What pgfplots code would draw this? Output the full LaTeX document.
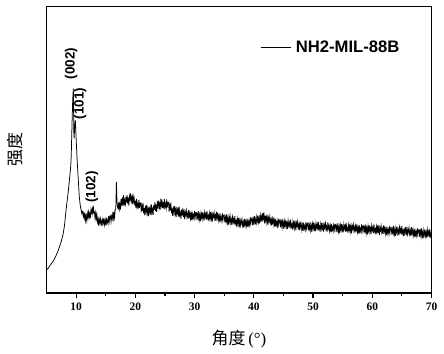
\documentclass[border=0pt]{standalone}
\usepackage{fontspec}
\setmainfont{Liberation Serif}
\setsansfont{Liberation Sans}
\newfontfamily\cjk{Noto Sans CJK SC}
\usepackage{pgfplots}
\pgfplotsset{compat=1.18}
\usetikzlibrary{calc}
\begin{document}
\begin{tikzpicture}
\begin{axis}[
  scale only axis,
  width=385bp, height=286.5bp,
  xmin=5, xmax=70, ymin=0, ymax=287,
  axis line style={line width=1.3bp},
  xtick={10,20,30,40,50,60,70},
  minor x tick num=1,
  xtick pos=bottom,
  tick align=outside,
  major tick length=4.5bp, minor tick length=3bp,
  every tick/.style={line width=1.1bp, black},
  ytick=\empty,
  /pgf/number format/assume math mode=true,
  xticklabel style={font=\fontsize{11.5}{12}\selectfont\bfseries, yshift=-2bp},
  xlabel={{\cjk 角度}\,(°)},
  xlabel style={font=\fontsize{17}{18}\selectfont, at={(axis description cs:0.5,0)}, anchor=center, yshift=-46bp},
  ylabel={\cjk 强度},
  ylabel style={font=\fontsize{17}{18}\selectfont, at={(axis description cs:0,0.5)}, anchor=center, yshift=31.5bp},
  legend style={draw=none, fill=none, at={(axis description cs:0.5545,0.8586)}, anchor=west, inner sep=0pt, font=\fontsize{16.7}{17}\selectfont\sffamily\bfseries},
  legend image code/.code={\draw[#1, line width=0.7bp] (0bp,0bp) -- (30bp,0bp); \path (33bp,0bp);},
  clip=true,
]
\addplot[black, line width=0.75bp] coordinates {
(5.0,23) (5.3,25) (5.6,27.5) (5.9,30) (6.2,32.5) (6.5,36) (6.8,40) (7.0,43) (7.2,46.5) (7.4,50) (7.6,54) (7.8,59) (8.0,66)
(8.1,71) (8.2,77) (8.3,83) (8.4,88) (8.5,93) (8.6,98) (8.7,103) (8.8,109) (8.9,115) (9.0,121) (9.1,128) (9.15,133) (9.2,143)
(9.25,155) (9.3,167) (9.36,180) (9.42,192) (9.48,200) (9.53,205) (9.57,185) (9.62,160) (9.67,155) (9.72,162) (9.8,170) (9.87,173)
(9.93,165) (10.0,155) (10.1,142) (10.2,130) (10.3,120) (10.4,110) (10.5,100) (10.55,96) (10.65,90) (10.75,86) (10.85,83) (10.95,80)
(11.0,82) (11.1,81.5) (11.2,76.5) (11.3,80.0) (11.4,75.0) (11.5,80.6) (11.6,72.6) (11.7,77.1) (11.8,72.3) (11.9,79.6) (12.0,75.7)
(12.1,81.1) (12.2,75.6) (12.3,79.5) (12.4,74.9) (12.5,83.3) (12.6,80.3) (12.7,84.0) (12.8,79.8) (12.9,87.6) (13.0,80.2)
(13.1,80.9) (13.2,74.7) (13.3,80.2) (13.4,74.5) (13.5,78.9) (13.6,71.2) (13.7,74.6) (13.8,67.5) (13.9,73.8) (14.0,70.5)
(14.1,74.5) (14.2,68.8) (14.3,71.8) (14.4,67.2) (14.5,75.5) (14.6,70.2) (14.7,73.2) (14.8,68.2) (14.9,72.9) (15.0,67.9)
(15.1,75.4) (15.2,69.9) (15.3,72.9) (15.4,70.0) (15.5,77.3) (15.6,71.8) (15.7,76.4) (15.8,77.4) (15.9,71.3) (16.0,76.9)
(16.1,74.1) (16.2,81.1) (16.3,74.6) (16.4,79.6) (16.5,75.3) (16.6,83.6) (16.7,84) (16.8,111) (16.9,92) (17.0,86)
(17.1,84.3) (17.2,91.3) (17.3,84.3) (17.4,89.3) (17.5,83.6) (17.6,94.4) (17.7,89.5) (17.8,93.6) (17.9,87.3) (18.0,98.1)
(18.1,89.8) (18.2,92.9) (18.3,86.7) (18.4,96.3) (18.5,90.9) (18.6,98.2) (18.7,89.5) (18.8,95.5) (18.9,87.5) (19.0,97.0)
(19.1,93.9) (19.2,99.7) (19.3,92.1) (19.4,95.6) (19.5,89.0) (19.6,99.3) (19.7,91.6) (19.8,94.9) (19.9,87.6) (20.0,92.6)
(20.1,85.0) (20.2,94.2) (20.3,86.0) (20.4,89.2) (20.5,84.5) (20.6,93.3) (20.7,85.2) (20.8,90.2) (20.9,90.3) (21.0,81.1)
(21.1,87.3) (21.2,82.2) (21.3,90.3) (21.4,79.9) (21.5,85.0) (21.6,77.8) (21.7,87.3) (21.8,81.8) (21.9,88.0) (22.0,79.8)
(22.1,84.1) (22.2,77.1) (22.3,86.6) (22.4,81.0) (22.5,84.8) (22.6,78.3) (22.7,88.8) (22.8,80.6) (22.9,84.0) (23.0,78.2)
(23.1,88.1) (23.2,83.0) (23.3,90.7) (23.4,82.3) (23.5,88.7) (23.6,81.0) (23.7,90.2) (23.8,86.9) (23.9,92.4) (24.0,85.1)
(24.1,89.3) (24.2,83.5) (24.3,94.5) (24.4,87.6) (24.5,91.6) (24.6,85.1) (24.7,91.3) (24.8,84.5) (24.9,93.9) (25.0,86.0)
(25.1,89.4) (25.2,85.0) (25.3,93.8) (25.4,85.7) (25.5,90.7) (25.6,90.8) (25.7,81.6) (25.8,87.8) (25.9,82.7) (26.0,90.5)
(26.1,79.9) (26.2,84.8) (26.3,77.3) (26.4,86.5) (26.5,81.0) (26.6,87.3) (26.7,79.0) (26.8,83.3) (26.9,76.3) (27.0,85.9)
(27.1,80.2) (27.2,83.6) (27.3,76.5) (27.4,86.6) (27.5,77.8) (27.6,80.5) (27.7,74.2) (27.8,83.6) (27.9,77.7) (28.0,84.7)
(28.1,76.3) (28.2,81.1) (28.3,74.1) (28.4,81.5) (28.5,78.4) (28.6,82.7) (28.7,76.3) (28.8,79.4) (28.9,74.2) (29.0,83.1)
(29.1,77.0) (29.2,80.2) (29.3,74.4) (29.4,79.4) (29.5,73.4) (29.6,81.4) (29.7,75.0) (29.8,78.0) (29.9,74.5) (30.0,82.1)
(30.1,75.7) (30.2,80.3) (30.3,80.7) (30.4,73.4) (30.5,78.9) (30.6,75.1) (30.7,81.9) (30.8,73.5) (30.9,77.9) (31.0,72.0)
(31.1,80.1) (31.2,75.8) (31.3,81.1) (31.4,74.4) (31.5,78.2) (31.6,72.6) (31.7,80.7) (31.8,76.2) (31.9,79.2) (32.0,73.5)
(32.1,82.1) (32.2,74.9) (32.3,77.3) (32.4,72.1) (32.5,79.8) (32.6,75.1) (32.7,81.1) (32.8,73.7) (32.9,78.5) (33.0,71.7)
(33.1,79.2) (33.2,76.2) (33.3,80.5) (33.4,74.2) (33.5,77.5) (33.6,72.3) (33.7,81.3) (33.8,75.3) (33.9,78.5) (34.0,72.8)
(34.1,77.6) (34.2,71.6) (34.3,79.5) (34.4,73.0) (34.5,75.9) (34.6,72.3) (34.7,79.8) (34.8,73.4) (34.9,77.8) (35.0,78.2)
(35.1,70.7) (35.2,76.1) (35.3,72.1) (35.4,78.8) (35.5,70.2) (35.6,74.5) (35.7,68.4) (35.8,76.3) (35.9,71.8) (36.0,77.0)
(36.1,70.2) (36.2,73.8) (36.3,68.1) (36.4,76.1) (36.5,71.5) (36.6,74.3) (36.7,68.5) (36.8,76.9) (36.9,69.7) (37.0,71.9)
(37.1,66.6) (37.2,74.2) (37.3,69.4) (37.4,75.2) (37.5,67.7) (37.6,72.4) (37.7,65.5) (37.8,72.8) (37.9,69.7) (38.0,73.9)
(38.1,67.5) (38.2,70.7) (38.3,65.4) (38.4,74.3) (38.5,68.5) (38.6,71.9) (38.7,66.5) (38.8,71.7) (38.9,66.0) (39.0,74.3)
(39.1,68.1) (39.2,71.3) (39.3,68.0) (39.4,75.9) (39.5,69.8) (39.6,74.5) (39.7,75.2) (39.8,68.1) (39.9,73.8) (40.0,70.2)
(40.1,77.3) (40.2,69.0) (40.3,73.7) (40.4,67.9) (40.5,76.2) (40.6,72.0) (40.7,77.6) (40.8,71.0) (40.9,75.0) (41.0,69.5)
(41.1,77.9) (41.2,73.5) (41.3,76.7) (41.4,71.2) (41.5,79.9) (41.6,73.0) (41.7,80.5) (41.8,69.8) (41.9,77.4) (42.0,72.5)
(42.1,78.3) (42.2,70.7) (42.3,75.3) (42.4,68.3) (42.5,75.6) (42.6,72.4) (42.7,76.6) (42.8,70.0) (42.9,73.1) (43.0,67.8)
(43.1,76.7) (43.2,70.5) (43.3,73.6) (43.4,67.7) (43.5,72.6) (43.6,66.5) (43.7,74.5) (43.8,67.9) (43.9,70.9) (44.0,67.2)
(44.1,74.8) (44.2,68.4) (44.3,72.9) (44.4,73.3) (44.5,65.9) (44.6,71.4) (44.7,67.5) (44.8,74.3) (44.9,65.8) (45.0,70.2)
(45.1,64.2) (45.2,72.2) (45.3,67.8) (45.4,73.1) (45.5,66.3) (45.6,70.0) (45.7,64.3) (45.8,72.4) (45.9,67.8) (46.0,70.7)
(46.1,65.0) (46.2,73.5) (46.3,66.4) (46.4,68.7) (46.5,63.5) (46.6,71.2) (46.7,66.5) (46.8,72.4) (46.9,65.0) (47.0,69.8)
(47.1,62.9) (47.2,70.3) (47.3,67.2) (47.4,71.5) (47.5,65.1) (47.6,68.3) (47.7,63.1) (47.8,72.0) (47.9,65.9) (48.0,69.0)
(48.1,63.3) (48.2,68.3) (48.3,62.3) (48.4,70.4) (48.5,64.0) (48.6,67.0) (48.7,63.5) (48.8,71.2) (48.9,64.8) (49.0,69.4)
(49.1,69.9) (49.2,62.6) (49.3,68.1) (49.4,64.3) (49.5,71.2) (49.6,62.8) (49.7,67.2) (49.8,61.3) (49.9,69.4) (50.0,65.1)
(50.1,70.5) (50.2,63.7) (50.3,67.5) (50.4,61.9) (50.5,70.1) (50.6,65.5) (50.7,68.5) (50.8,62.8) (50.9,71.3) (51.0,64.2)
(51.1,66.6) (51.2,61.4) (51.3,69.1) (51.4,64.4) (51.5,70.4) (51.6,62.9) (51.7,67.8) (51.8,61.0) (51.9,68.5) (52.0,65.4)
(52.1,69.8) (52.2,63.5) (52.3,66.8) (52.4,61.6) (52.5,70.6) (52.6,64.6) (52.7,67.7) (52.8,62.0) (52.9,67.0) (53.0,61.1)
(53.1,69.1) (53.2,62.7) (53.3,65.8) (53.4,62.2) (53.5,69.9) (53.6,63.6) (53.7,68.2) (53.8,68.6) (53.9,61.3) (54.0,66.9)
(54.1,63.1) (54.2,69.9) (54.3,61.5) (54.4,66.0) (54.5,60.1) (54.6,68.2) (54.7,63.8) (54.8,69.2) (54.9,62.5) (55.0,66.3)
(55.1,60.7) (55.2,68.8) (55.3,64.3) (55.4,67.3) (55.5,61.6) (55.6,70.2) (55.7,63.1) (55.8,65.4) (55.9,60.2) (56.0,68.0)
(56.1,63.3) (56.2,69.2) (56.3,61.8) (56.4,66.7) (56.5,59.8) (56.6,67.3) (56.7,64.3) (56.8,68.6) (56.9,62.3) (57.0,65.6)
(57.1,60.4) (57.2,69.4) (57.3,63.4) (57.4,66.5) (57.5,60.8) (57.6,65.8) (57.7,59.8) (57.8,67.9) (57.9,61.5) (58.0,64.5)
(58.1,61.0) (58.2,68.7) (58.3,62.3) (58.4,66.9) (58.5,67.4) (58.6,60.0) (58.7,65.6) (58.8,61.8) (58.9,68.6) (59.0,60.2)
(59.1,64.7) (59.2,58.7) (59.3,66.8) (59.4,62.5) (59.5,67.8) (59.6,61.1) (59.7,64.9) (59.8,59.2) (59.9,67.4) (60.0,62.9)
(60.1,65.8) (60.2,60.1) (60.3,68.7) (60.4,61.5) (60.5,63.9) (60.6,58.7) (60.7,66.4) (60.8,61.7) (60.9,67.7) (61.0,60.2)
(61.1,65.1) (61.2,58.3) (61.3,65.7) (61.4,62.7) (61.5,67.1) (61.6,60.7) (61.7,64.0) (61.8,58.9) (61.9,67.8) (62.0,61.8)
(62.1,65.0) (62.2,59.2) (62.3,64.2) (62.4,58.3) (62.5,66.3) (62.6,59.9) (62.7,63.0) (62.8,59.4) (62.9,67.1) (63.0,60.8)
(63.1,65.3) (63.2,65.8) (63.3,58.5) (63.4,64.0) (63.5,60.2) (63.6,67.1) (63.7,58.6) (63.8,63.1) (63.9,57.2) (64.0,65.2)
(64.1,60.9) (64.2,66.3) (64.3,59.5) (64.4,63.3) (64.5,57.7) (64.6,65.8) (64.7,61.3) (64.8,64.3) (64.9,58.5) (65.0,67.1)
(65.1,59.9) (65.2,62.3) (65.3,57.0) (65.4,64.8) (65.5,60.0) (65.6,66.0) (65.7,58.5) (65.8,63.4) (65.9,56.5) (66.0,64.0)
(66.1,60.9) (66.2,65.3) (66.3,58.9) (66.4,62.2) (66.5,57.0) (66.6,66.0) (66.7,59.9) (66.8,63.1) (66.9,57.3) (67.0,62.3)
(67.1,56.3) (67.2,64.4) (67.3,57.9) (67.4,60.9) (67.5,57.4) (67.6,65.0) (67.7,58.6) (67.8,63.2) (67.9,63.6) (68.0,56.2)
(68.1,61.8) (68.2,57.9) (68.3,64.7) (68.4,56.3) (68.5,60.7) (68.6,54.7) (68.7,62.8) (68.8,58.4) (68.9,63.7) (69.0,57.0)
(69.1,60.7) (69.2,55.0) (69.3,63.2) (69.4,58.6) (69.5,61.5) (69.6,55.8) (69.7,64.3) (69.8,57.1) (69.9,59.5) (70.0,54.2)
};
\addlegendentry{NH2-MIL-88B}
\node[rotate=90, font=\fontsize{13.5}{14}\selectfont\sffamily\bfseries] at (axis cs:9.15,230) {(002)};
\node[rotate=90, font=\fontsize{13.5}{14}\selectfont\sffamily\bfseries] at (axis cs:10.66,190) {(101)};
\node[rotate=90, font=\fontsize{13.5}{14}\selectfont\sffamily\bfseries] at (axis cs:12.68,106) {(102)};
\end{axis}
\pgfresetboundingbox
\path[use as bounding box] ($(current axis.south west)+(-46.5bp,-61bp)$) rectangle ($(current axis.north east)+(12.5bp,6.5bp)$);
\end{tikzpicture}
\end{document}
